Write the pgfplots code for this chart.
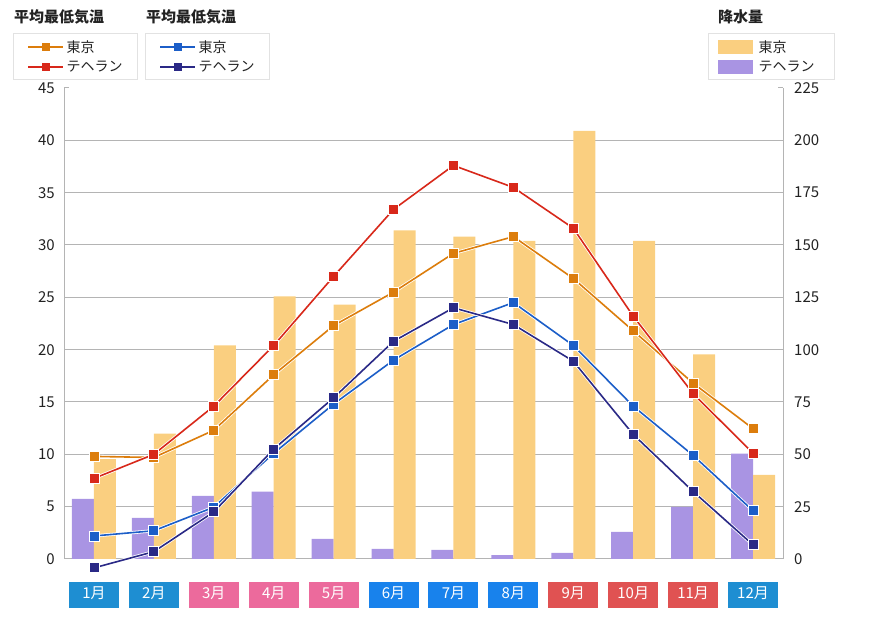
\documentclass[border=0pt]{standalone}
\usepackage{fontspec}
\setmainfont{Noto Sans CJK JP}
\usepackage{pgfplots}
\usepackage{pgfplotstable}
\pgfplotsset{compat=1.18}

\definecolor{tkmax}{HTML}{DC7D0C}
\definecolor{thmax}{HTML}{D8281A}
\definecolor{tkmin}{HTML}{1C5EC8}
\definecolor{thmin}{HTML}{2A2986}
\definecolor{tkbar}{HTML}{FACF80}
\definecolor{thbar}{HTML}{A994E3}
\definecolor{gridc}{HTML}{B4B4B4}
\definecolor{lgd}{HTML}{E2E2E2}
\definecolor{txt}{HTML}{222222}
\definecolor{mA}{HTML}{1E8ED2}
\definecolor{mB}{HTML}{EC6A9C}
\definecolor{mC}{HTML}{1882EC}
\definecolor{mD}{HTML}{E05252}

% month label box
\newcommand{\mlab}[2]{{\setlength{\fboxsep}{3pt}\colorbox{#1}{\makebox[44pt][c]{\rule[-7pt]{0pt}{20pt}\textcolor{white}{#2}}}}}

% temperatures (left axis)
\pgfplotstableread{
m tkmax thmax tkmin thmin
1  9.8  7.7  2.2 -0.85
2  9.7 10.0  2.7  0.7
3 12.3 14.6  4.95 4.5
4 17.6 20.4 10.1 10.5
5 22.3 27.0 14.8 15.4
6 25.5 33.4 19.0 20.8
7 29.2 37.6 22.4 24.0
8 30.8 35.5 24.5 22.4
9 26.8 31.6 20.4 18.9
10 21.8 23.2 14.6 11.9
11 16.8 15.8  9.9  6.45
12 12.45 10.1 4.6  1.35
}\temps

% precipitation (right axis)
\pgfplotstableread{
m tk th
1  47.7 28.7
2  59.9 19.6
3 102.0 30.2
4 125.5 32.2
5 121.5  9.6
6 157.0  4.8
7 154.0  4.3
8 152.0  1.9
9 204.5  2.9
10 152.0 12.9
11  97.7 24.9
12  40.2 50.3
}\precip

\tikzset{ttl/.style={anchor=west, inner sep=0pt, font=\fontsize{15}{15}\selectfont\bfseries, text=txt}}

\pgfplotsset{
  base/.style={
    width=719pt, height=471pt, scale only axis,
    at={(64pt,61pt)}, anchor=south west,
    xmin=0.5, xmax=12.5,
    tick align=inside, major tick length=5pt,
    axis line style={gridc, line width=1pt},
    ytick style={gridc, line width=1pt},
    xtick style={draw=none},
    ticklabel style={font=\fontsize{15}{15}\selectfont, text=txt},
    /pgf/number format/assume math mode=true,
    legend cell align=left,
    legend style={draw=lgd, line width=1pt, anchor=north west,
      font=\fontsize{14}{15}\selectfont, text=txt,
      inner xsep=13pt, inner ysep=5pt, row sep=3pt},
  },
  ln/.style={color=#1, line width=1.6pt, mark=square*, mark size=5pt,
    mark options={draw=white, line width=0.9pt, fill=#1},
    preaction={draw=white, line width=3.2pt}},
  lnleg/.style={legend image code/.code={
    \draw[##1, mark=none] (0pt,0pt) -- (35pt,0pt);
    \draw[##1, mark size=3.3pt, mark options={draw=none}] plot coordinates {(17.5pt,0pt)};}},
}

\begin{document}
\begin{tikzpicture}
\path[use as bounding box] (0pt,0pt) rectangle (880pt,620pt);

% precipitation bars, right axis, grid and month labels
\begin{axis}[base,
  ymin=0, ymax=225, ytick={0,25,...,225},
  axis y line*=right, axis x line*=bottom, clip=false,
  extra y ticks={25,50,...,200}, extra y tick labels={},
  extra y tick style={grid=major, major tick length=0pt},
  grid style={gridc, line width=1pt},
  yticklabel style={inner sep=0pt, xshift=11pt, anchor=west},
  ybar=0pt, bar width=22pt,
  xtick={1,...,12},
  xticklabels={\mlab{mA}{1月},\mlab{mA}{2月},\mlab{mB}{3月},\mlab{mB}{4月},
    \mlab{mB}{5月},\mlab{mC}{6月},\mlab{mC}{7月},\mlab{mC}{8月},
    \mlab{mD}{9月},\mlab{mD}{10月},\mlab{mD}{11月},\mlab{mA}{12月}},
  xticklabel style={inner sep=0pt, anchor=north, yshift=-18pt, text=white},
  reverse legend,
  legend image code/.code={\fill[#1] (0pt,-7pt) rectangle (35pt,7pt);},
  legend style={at={(0.8957,1.1168)}, inner xsep=9pt},
]
\addplot[fill=thbar, draw=none] table[x=m, y=th]{\precip};
\addplot[fill=tkbar, draw=none] table[x=m, y=tk]{\precip};
\legend{\hspace*{4pt}テヘラン\hspace*{9pt}, \hspace*{4pt}東京}
\node[ttl] at (axis description cs:0.9096,1.1507) {降水量};
\end{axis}

% average highs
\begin{axis}[base,
  ymin=0, ymax=45, ytick={0,5,...,45},
  axis y line*=left, axis x line=none, clip=false,
  yticklabel style={inner sep=0pt, xshift=-9pt, anchor=east},
  lnleg,
  legend style={at={(-0.0709,1.1168)}},
]
\addplot[ln=tkmax] table[x=m, y=tkmax]{\temps};
\addplot[ln=thmax] table[x=m, y=thmax]{\temps};
\legend{東京, テヘラン}
\node[ttl] at (axis description cs:-0.0695,1.1507) {平均最低気温};
\node[ttl] at (axis description cs:0.1140,1.1507) {平均最低気温};
\end{axis}

% average lows
\begin{axis}[base,
  ymin=0, ymax=45, hide axis, clip=false,
  lnleg,
  legend style={at={(0.1127,1.1168)}},
]
\addplot[ln=tkmin] table[x=m, y=tkmin]{\temps};
\addplot[ln=thmin] table[x=m, y=thmin]{\temps};
\legend{東京, テヘラン}
\end{axis}
\end{tikzpicture}
\end{document}
